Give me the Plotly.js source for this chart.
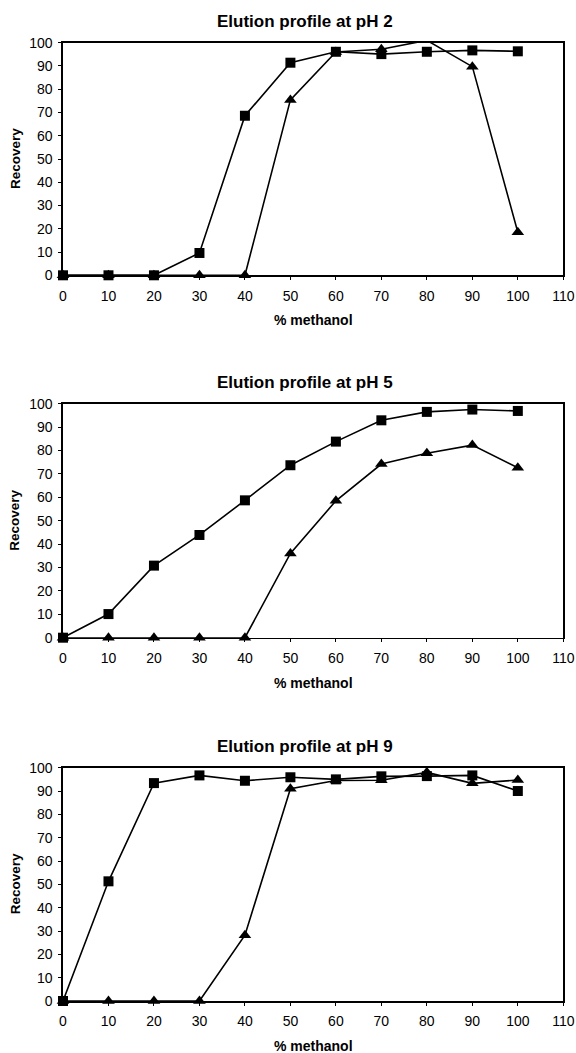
<!DOCTYPE html>
<html>
<head>
<meta charset="utf-8">
<script src="https://cdn.plot.ly/plotly-3.0.1.min.js"></script>
<style>html,body{margin:0;padding:0;background:#fff;}#chart{width:576px;height:1053px;}</style>
</head>
<body>
<div id="chart"></div>
<script>
const methanol = [0, 10, 20, 30, 40, 50, 60, 70, 80, 90, 100];
const ph2Square   = [0, 0, 0, 9.6, 68.6, 91.4, 96.1, 95.1, 96.1, 96.7, 96.3];
const ph2Triangle = [0, 0, 0, 0, 0, 75.4, 96.0, 97.2, 101, 89.7, 18.5];
const ph5Square   = [0, 10.1, 30.8, 43.9, 58.7, 73.7, 83.8, 92.9, 96.5, 97.5, 96.9];
const ph5Triangle = [0, 0, 0, 0, 0, 36, 58.5, 74.2, 78.8, 82.3, 72.6];
const ph9Square   = [0, 51.3, 93.4, 96.7, 94.4, 95.9, 95.0, 96.3, 96.4, 96.7, 90.0];
const ph9Triangle = [0, 0, 0, 0, 28.2, 91.0, 94.5, 94.6, 98.0, 93.3, 94.7];
const titles = ["Elution profile at pH 2", "Elution profile at pH 5", "Elution profile at pH 9"];
const xTitle = "% methanol";
const yTitle = "Recovery";

const FONT = "Liberation Sans, Arial, sans-serif";
const W = 576, H = 1053;
const px = v => v / W;
const py = v => 1 - v / H;

const panels = [
  {sq: ph2Square, tr: ph2Triangle, top: 42.7, bot: 275.3},
  {sq: ph5Square, tr: ph5Triangle, top: 403.7, bot: 637.7},
  {sq: ph9Square, tr: ph9Triangle, top: 767.7, bot: 1001}
];

const traces = [];
const layout = {
  width: W, height: H,
  margin: {l: 0, r: 0, t: 0, b: 0},
  paper_bgcolor: "#fff", plot_bgcolor: "#fff",
  showlegend: false,
  font: {family: FONT, color: "#000"},
  annotations: []
};

panels.forEach((p, i) => {
  const n = i === 0 ? "" : String(i + 1);
  const xa = "x" + n, ya = "y" + n;
  const lineStyle = {color: "#000", width: 1.6};
  traces.push({
    x: methanol, y: p.tr, xaxis: xa, yaxis: ya, type: "scatter", mode: "lines+markers",
    line: lineStyle, cliponaxis: false,
    marker: {symbol: "triangle-up", size: 11, color: "#000",
             opacity: p.tr.map(v => v > 100 ? 0 : 1)}
  });
  traces.push({
    x: methanol, y: p.sq, xaxis: xa, yaxis: ya, type: "scatter", mode: "lines+markers",
    line: lineStyle, cliponaxis: false,
    marker: {symbol: "square", size: 10, color: "#000"}
  });
  const common = {
    showline: true, mirror: true, linecolor: "#000", linewidth: 1.6,
    showgrid: false, zeroline: false, ticks: "outside", ticklen: 3, tickwidth: 1,
    tickcolor: "#000", tickfont: {family: FONT, size: 14, color: "#000"}, fixedrange: true
  };
  layout["xaxis" + n] = Object.assign({}, common, {
    domain: [px(63), px(563.3)], anchor: ya, range: [0, 110], tick0: 0, dtick: 10,
    ticklabelstandoff: 4
  });
  layout["yaxis" + n] = Object.assign({}, common, {
    domain: [py(p.bot), py(p.top)], anchor: xa, range: [0, 100], tick0: 0, dtick: 10,
    ticklabelstandoff: 3
  });
  layout.annotations.push({
    text: "<b>" + titles[i] + "</b>", xref: "paper", yref: "paper",
    x: px(305), y: py(p.top - 21), xanchor: "center", yanchor: "middle",
    showarrow: false, font: {family: FONT, size: 17, color: "#000"}
  });
  layout.annotations.push({
    text: "<b>" + xTitle + "</b>", xref: "paper", yref: "paper",
    x: px(313), y: py(p.bot + 45), xanchor: "center", yanchor: "middle",
    showarrow: false, font: {family: FONT, size: 14, color: "#000"}
  });
  layout.annotations.push({
    text: "<b>" + yTitle + "</b>", xref: "paper", yref: "paper",
    x: px(15), y: py((p.top + p.bot) / 2), xanchor: "center", yanchor: "middle",
    textangle: -90, showarrow: false, font: {family: FONT, size: 13.5, color: "#000"}
  });
});

Plotly.newPlot("chart", traces, layout, {staticPlot: true, displayModeBar: false});
</script>
</body>
</html>
